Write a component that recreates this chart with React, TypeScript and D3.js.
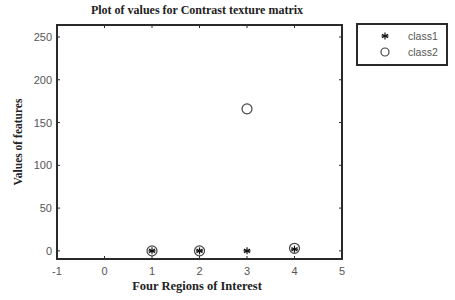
import React from "react";
import * as d3 from "d3";

const regions = [1, 2, 3, 4];
const class1Values = [0, 0, 0, 2];
const class2Values = [0, 0, 166, 3];
const xTicks = [-1, 0, 1, 2, 3, 4, 5];
const yTicks = [0, 50, 100, 150, 200, 250];
const seriesNames = ["class1", "class2"];

const W = 455, H = 300;
const M = { left: 57, right: 342, top: 25, bottom: 259 };

export default function App() {
  const x = d3.scaleLinear().domain([-1, 5]).range([M.left, M.right]);
  const y = d3.scaleLinear().domain([-9.5, 264]).range([M.bottom, M.top]);
  const axisColor = "#2a2a2a";
  const labelColor = "#555";
  const star = (cx: number, cy: number, k: string) => {
    const r = 3.5;
    const lines = [0, 60, 120].map((a) => {
      const rad = (a * Math.PI) / 180;
      return (
        <line key={k + a} x1={cx - r * Math.sin(rad)} y1={cy - r * Math.cos(rad)} x2={cx + r * Math.sin(rad)} y2={cy + r * Math.cos(rad)} stroke="#111" strokeWidth={1.2} />
      );
    });
    lines.push(<line key={k + "h"} x1={cx - r} y1={cy} x2={cx + r} y2={cy} stroke="#111" strokeWidth={1.2} />);
    return <g key={k}>{lines}</g>;
  };
  return (
    <svg width={W} height={H} style={{ position: "absolute", left: 0, top: 0, background: "#fff" }}>
      <rect x={0} y={0} width={W} height={H} fill="#fff" />
      <text x={197} y={14} textAnchor="middle" fontFamily="'Liberation Serif', serif" fontWeight="bold" fontSize={12} fill="#222">Plot of values for Contrast texture matrix</text>
      {xTicks.map((t) => (
        <g key={"xt" + t}>
          <line x1={x(t)} x2={x(t)} y1={M.bottom} y2={M.bottom - 3} stroke={axisColor} />
          <line x1={x(t)} x2={x(t)} y1={M.top} y2={M.top + 3} stroke={axisColor} />
          <text x={x(t)} y={M.bottom + 16} textAnchor="middle" fontFamily="'Liberation Sans', Arial, sans-serif" fontSize={11} fill={labelColor}>{t}</text>
        </g>
      ))}
      {yTicks.map((t) => (
        <g key={"yt" + t}>
          <line x1={M.left} x2={M.left + 3} y1={y(t)} y2={y(t)} stroke={axisColor} />
          <line x1={M.right} x2={M.right - 3} y1={y(t)} y2={y(t)} stroke={axisColor} />
          <text x={M.left - 5} y={y(t) + 4} textAnchor="end" fontFamily="'Liberation Sans', Arial, sans-serif" fontSize={11} fill={labelColor}>{t}</text>
        </g>
      ))}
      <rect x={M.left} y={M.top} width={M.right - M.left} height={M.bottom - M.top} fill="none" stroke={axisColor} strokeWidth={2} />
      {regions.map((r, i) => (
        <circle key={"c" + i} cx={x(r)} cy={y(class2Values[i])} r={5} fill="none" stroke="#444" strokeWidth={1.2} />
      ))}
      {regions.map((r, i) => star(x(r), y(class1Values[i]), "s" + i))}
      <text x={197} y={290} textAnchor="middle" fontFamily="'Liberation Serif', serif" fontWeight="bold" fontSize={12.5} fill="#222">Four Regions of Interest</text>
      <text transform={`translate(22, 142) rotate(-90)`} textAnchor="middle" fontFamily="'Liberation Serif', serif" fontWeight="bold" fontSize={11.5} fill="#222">Values of features</text>
      <rect x={357} y={24} width={90} height={41} fill="#fff" stroke={axisColor} strokeWidth={2} />
      {star(385, 36, "ls")}
      <circle cx={385} cy={52} r={4} fill="none" stroke="#444" strokeWidth={1.2} />
      <text x={408} y={40} fontFamily="'Liberation Sans', Arial, sans-serif" fontSize={10.5} fill={labelColor}>{seriesNames[0]}</text>
      <text x={408} y={56} fontFamily="'Liberation Sans', Arial, sans-serif" fontSize={10.5} fill={labelColor}>{seriesNames[1]}</text>
    </svg>
  );
}
